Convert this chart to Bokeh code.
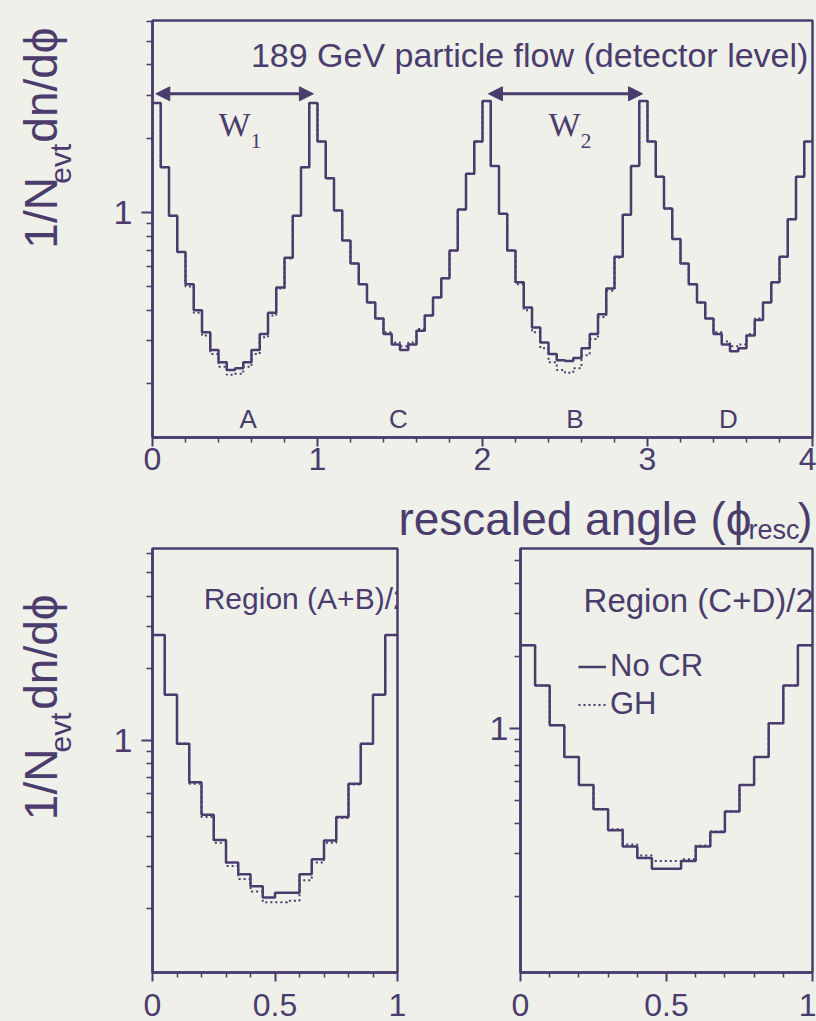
import math
import numpy as np
from bokeh.plotting import figure
from bokeh.models import (Range1d, FixedTicker, NumeralTickFormatter, Label, Arrow,
                          NormalHead, Legend, LegendItem, ColumnDataSource)
from bokeh.layouts import column, row
from bokeh.embed import file_html
from bokeh.resources import INLINE
from bokeh.core.properties import value

# ---------------- data ----------------
region_order = ["A", "C", "B", "D"]          # order of the regions along phi_resc
region_label_x = [0.58, 1.49, 2.56, 3.49]
bins_per_region = 20

A_nocr = [2.80, 1.53, 0.97, 0.69, 0.51, 0.40, 0.325, 0.275, 0.245, 0.228,
          0.232, 0.245, 0.275, 0.32, 0.39, 0.495, 0.655, 0.97, 1.53, 2.80]
C_nocr = [1.95, 1.38, 1.02, 0.77, 0.62, 0.51, 0.43, 0.37, 0.32, 0.29,
          0.275, 0.29, 0.33, 0.38, 0.45, 0.54, 0.70, 1.03, 1.44, 1.95]
B_nocr = [2.85, 1.55, 0.99, 0.70, 0.52, 0.41, 0.34, 0.295, 0.265, 0.25,
          0.248, 0.255, 0.28, 0.32, 0.385, 0.49, 0.66, 0.98, 1.55, 2.85]
D_nocr = [1.95, 1.40, 1.04, 0.78, 0.62, 0.51, 0.43, 0.37, 0.32, 0.29,
          0.272, 0.28, 0.315, 0.365, 0.43, 0.52, 0.66, 0.94, 1.40, 1.95]

A_gh = [2.80, 1.53, 0.97, 0.69, 0.50, 0.39, 0.315, 0.265, 0.235, 0.218,
        0.22, 0.235, 0.265, 0.31, 0.38, 0.49, 0.65, 0.97, 1.53, 2.80]
C_gh = [1.95, 1.38, 1.02, 0.77, 0.62, 0.51, 0.43, 0.37, 0.325, 0.295,
        0.285, 0.295, 0.335, 0.38, 0.45, 0.54, 0.70, 1.03, 1.44, 1.95]
B_gh = [2.85, 1.55, 0.99, 0.70, 0.51, 0.40, 0.325, 0.28, 0.245, 0.228,
        0.222, 0.232, 0.262, 0.305, 0.375, 0.48, 0.655, 0.98, 1.55, 2.85]
D_gh = [1.95, 1.40, 1.04, 0.78, 0.62, 0.51, 0.43, 0.37, 0.325, 0.298,
        0.285, 0.29, 0.32, 0.37, 0.43, 0.52, 0.66, 0.94, 1.40, 1.95]

AB_nocr = [2.75, 1.55, 0.97, 0.67, 0.49, 0.385, 0.31, 0.277, 0.247, 0.222,
           0.232, 0.232, 0.277, 0.32, 0.383, 0.48, 0.66, 0.97, 1.55, 2.75]
AB_gh = [2.75, 1.55, 0.97, 0.66, 0.48, 0.375, 0.30, 0.265, 0.235, 0.212,
         0.212, 0.215, 0.262, 0.31, 0.375, 0.475, 0.655, 0.97, 1.55, 2.75]
CD_nocr = [2.22, 1.51, 1.03, 0.76, 0.58, 0.46, 0.376, 0.322, 0.288, 0.26,
           0.26, 0.28, 0.322, 0.37, 0.45, 0.58, 0.76, 1.05, 1.51, 2.22]
CD_gh = [2.22, 1.51, 1.03, 0.76, 0.58, 0.46, 0.38, 0.328, 0.295, 0.28,
         0.28, 0.285, 0.325, 0.372, 0.45, 0.58, 0.76, 1.05, 1.51, 2.22]

top_x_ticks = [0, 1, 2, 3, 4]
bottom_x_ticks = [0, 0.5, 1]
y_major_ticks = [1]
y_minor_ticks = [0.2, 0.3, 0.4, 0.5, 0.6, 0.7, 0.8, 0.9, 2, 3, 4, 5, 6]

# ---------------- style ----------------
LINE = "#4b3c6e"
BG = "#eef0e9"
FONT = "Liberation Sans"
SERIF = "Liberation Serif"
PHI = "\u03d5"


def base_fig(width, height, xr, yr, bl, br, bt, bb, xticks, xminor):
    p = figure(width=width, height=height, x_range=Range1d(*xr), y_range=Range1d(*yr),
               y_axis_type="log", output_backend="svg", toolbar_location=None,
               min_border_left=bl, min_border_right=br, min_border_top=bt,
               min_border_bottom=bb)
    p.background_fill_color = BG
    p.border_fill_color = BG
    p.outline_line_color = LINE
    p.outline_line_width = 2.5
    p.xgrid.visible = False
    p.ygrid.visible = False
    for ax in (p.xaxis[0], p.yaxis[0]):
        ax.axis_line_color = LINE
        ax.axis_line_width = 2.5
        ax.major_tick_line_color = LINE
        ax.minor_tick_line_color = LINE
        ax.major_tick_line_width = 2
        ax.minor_tick_line_width = 1.5
        ax.major_tick_in = 0
        ax.minor_tick_in = 0
        ax.major_tick_out = 9
        ax.minor_tick_out = 5
        ax.major_label_text_font = FONT
        ax.major_label_text_color = LINE
        ax.major_label_text_font_size = "32px"
    p.xaxis[0].ticker = FixedTicker(ticks=xticks, minor_ticks=xminor)
    p.xaxis[0].formatter = NumeralTickFormatter(format="0.[0]")
    p.xaxis[0].major_label_standoff = 1
    p.yaxis[0].ticker = FixedTicker(ticks=y_major_ticks, minor_ticks=y_minor_ticks)
    p.yaxis[0].formatter = NumeralTickFormatter(format="0")
    p.yaxis[0].major_label_standoff = 9
    p.yaxis[0].major_label_text_font_size = "34px"
    p.yaxis[0].major_tick_out = 11
    p.yaxis[0].minor_tick_out = 6
    return p


def blank_fig(w, h):
    f = figure(width=w, height=h, x_range=Range1d(0, w), y_range=Range1d(0, h),
               output_backend="svg", toolbar_location=None,
               x_axis_location=None, y_axis_location=None,
               min_border_left=0, min_border_right=0, min_border_top=0,
               min_border_bottom=0)
    f.outline_line_color = None
    f.background_fill_color = BG
    f.border_fill_color = BG
    for g in f.grid:
        g.visible = False
    return f


def ftext(f, x, y, s, size, align="left", angle=0.0, font=FONT):
    f.text(x=[x], y=[y], text=[s], angle=angle, text_font=value(font),
           text_font_size=size, text_color=LINE, text_align=align,
           text_baseline="middle")


def hist(p, edges, vals, dotted=False):
    ys = list(vals) + [vals[-1]]
    src = ColumnDataSource(dict(x=list(edges), y=ys))
    if dotted:
        return p.step("x", "y", source=src, mode="after", line_color=LINE,
                      line_width=2, line_dash="2 3")
    return p.step("x", "y", source=src, mode="after", line_color=LINE, line_width=2.5)


def lab(p, text, x, y, size, align="left", font=FONT):
    p.add_layout(Label(x=x, y=y, text=text, text_font=font, text_font_size=size,
                       text_color=LINE, text_align=align, text_baseline="middle"))


def ytitle(f, y0):
    ftext(f, 40, y0, "1/N", "46px", angle=math.pi / 2)
    ftext(f, 60, y0 + 76, "evt", "30px", angle=math.pi / 2)
    ftext(f, 40, y0 + 124, "dn/d" + PHI, "46px", angle=math.pi / 2)


# ---------------- top panel ----------------
top_minor = [i * 0.2 for i in range(21) if i % 5]
top = base_fig(736, 488, (0, 4), (0.121, 6.07), 72, 4, 20, 51, top_x_ticks, top_minor)
edges_top = np.linspace(0, 4, 4 * bins_per_region + 1)
nocr_top = A_nocr + C_nocr + B_nocr + D_nocr
gh_top = A_gh + C_gh + B_gh + D_gh
hist(top, edges_top, nocr_top)
hist(top, edges_top, gh_top, dotted=True)

for xs, xe in ((0.02, 0.975), (2.036, 2.97)):
    top.add_layout(Arrow(start=NormalHead(size=14, fill_color=LINE, line_color=LINE),
                         end=NormalHead(size=14, fill_color=LINE, line_color=LINE),
                         x_start=xs, y_start=3.05, x_end=xe, y_end=3.05,
                         line_color=LINE, line_width=3))
lab(top, "W", 0.40, 2.29, "34px", font=SERIF)
lab(top, "1", 0.594, 1.96, "22px", font=SERIF)
lab(top, "W", 2.40, 2.29, "34px", font=SERIF)
lab(top, "2", 2.594, 1.96, "22px", font=SERIF)
lab(top, "189 GeV particle flow (detector level)", 3.975, 4.37, "34px", align="right")
for name, xc in zip(region_order, region_label_x):
    lab(top, name, xc, 0.144, "26px", align="center")

ytop = blank_fig(80, 488)
ytitle(ytop, 221)

# x axis title strip (spans picture rows 488..545)
xstrip = blank_fig(816, 57)
ftext(xstrip, 812, 27, ")", "44px", align="right")
ftext(xstrip, 799, 16, "resc", "27px", align="right")
ftext(xstrip, 751, 27, "rescaled angle (" + PHI, "46px", align="right")

# ---------------- bottom panels ----------------
bot_minor = [i * 0.1 for i in range(11) if i % 5]
edges_bot = np.linspace(0, 1, bins_per_region + 1)

bl = base_fig(380, 476, (0, 1), (0.108, 6.31), 72, 63, 3, 49, bottom_x_ticks, bot_minor)
bl.xaxis[0].major_label_standoff = 12
hist(bl, edges_bot, AB_nocr)
hist(bl, edges_bot, AB_gh, dotted=True)
bl.text(x=[0.209], y=[3.91], text=["Region (A+B)/2"], text_font=value(FONT),
        text_font_size="30px", text_color=LINE, text_baseline="middle")

br = base_fig(356, 476, (0, 1), (0.096, 5.62), 60, 4, 3, 49, bottom_x_ticks, bot_minor)
br.xaxis[0].major_label_standoff = 12
br.yaxis[0].major_label_standoff = 1
r1 = hist(br, edges_bot, CD_nocr)
r2 = hist(br, edges_bot, CD_gh, dotted=True)
br.text(x=[0.216], y=[3.41], text=["Region (C+D)/2"], text_font=value(FONT),
        text_font_size="33px", text_color=LINE, text_baseline="middle")
leg = Legend(items=[LegendItem(label="No CR", renderers=[r1]),
                    LegendItem(label="GH", renderers=[r2])],
             location=(58, 250), glyph_width=28, glyph_height=27, label_height=27,
             label_standoff=4, spacing=2, padding=0, margin=0,
             border_line_alpha=0, background_fill_alpha=0,
             label_text_font=FONT, label_text_font_size="31px",
             label_text_color=LINE)
br.add_layout(leg)

ybot = blank_fig(80, 476)
ytitle(ybot, 171)

layout = column(row(ytop, top, spacing=0), xstrip, row(ybot, bl, br, spacing=0), spacing=0)
html = file_html(layout, INLINE)
html = html.replace("<head>", "<head><style>html,body{margin:0;padding:0;background:%s;}</style>" % BG, 1)
open("out.html", "w").write(html)
